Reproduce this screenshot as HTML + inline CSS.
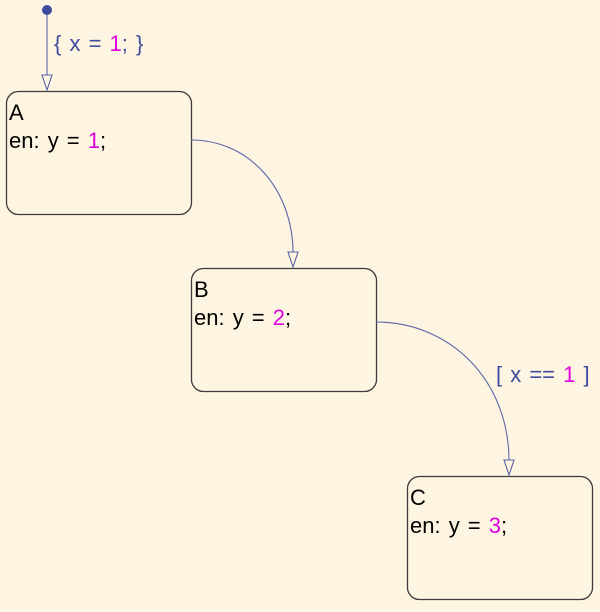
<!DOCTYPE html>
<html><head><style>
body{margin:0;width:600px;height:607px;background:#fdf4e1;overflow:hidden}
svg text{font-family:"Liberation Sans",sans-serif;word-spacing:2px}
</style></head><body>
<svg width="600" height="607" xmlns="http://www.w3.org/2000/svg">
<g fill="none" stroke="#3c3c3c" stroke-width="1.3">
<rect x="6.5" y="91.5" width="185" height="123" rx="12"/>
<rect x="191.5" y="268.5" width="185" height="123" rx="12"/>
<rect x="407.5" y="476.5" width="185" height="123" rx="12"/>
</g>
<g fill="none" stroke="#5a64a8" stroke-width="1.1">
<line x1="47" y1="10" x2="47" y2="76"/>
<path d="M191 140 C250 140 293 190 293 253"/>
<path d="M376 322 C450 322 509 380 509 461"/>
</g>
<g fill="#fdf4e1" stroke="#5a64a8" stroke-width="1.1">
<polygon points="42,75 52,75 47,90"/>
<polygon points="288,252 298,252 293,267"/>
<polygon points="504,460 514,460 509,475"/>
</g>
<circle cx="47" cy="10" r="5" fill="#3f4b9e"/>
<g font-size="22" fill="#000">
<text x="9" y="120">A</text>
<text x="9" y="148">en: y = <tspan fill="#e000e0">1</tspan>;</text>
<text x="194" y="297">B</text>
<text x="194" y="325">en: y = <tspan fill="#e000e0">2</tspan>;</text>
<text x="410" y="505">C</text>
<text x="410" y="533">en: y = <tspan fill="#e000e0">3</tspan>;</text>
</g>
<g font-size="22" fill="#3f4b9e">
<text x="54" y="51">{ x = <tspan fill="#e000e0">1</tspan>; }</text>
<text x="496" y="382">[ x == <tspan fill="#e000e0">1</tspan> ]</text>
</g>
</svg>
</body></html>
